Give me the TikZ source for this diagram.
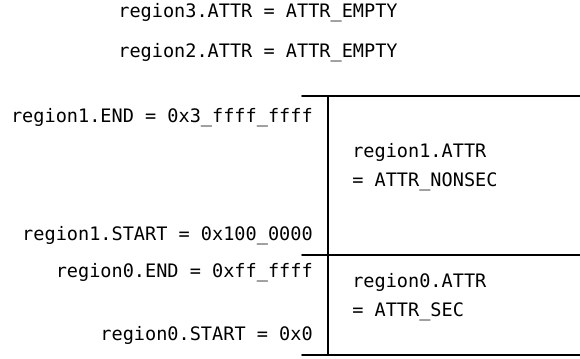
\documentclass[tikz,border=0pt]{standalone}
\usepackage{fontspec}
\setmonofont{DejaVu Sans Mono}
\usepackage{tkz-euclide}
\usetikzlibrary{calc}
\usetikzlibrary{positioning}

\tikzset{
  addr/.style={anchor=east, inner sep=0pt, font=\ttfamily\fontsize{13.2}{16}\selectfont},
  attr/.style={anchor=west, inner sep=0pt, align=left, font=\ttfamily\fontsize{13.2}{20.6}\selectfont},
  empty/.style={inner sep=0pt, font=\ttfamily\fontsize{13.2}{16}\selectfont}
}

\begin{document}
\begin{tikzpicture}
      \useasboundingbox (0,0) rectangle (14.5,8.95);
      \tkzDefPoints{7.55/6.55/T, 14.5/6.55/U, 7.55/2.575/M, 14.5/2.575/N, 7.55/0.075/B, 14.5/0.075/C, 8.2/6.55/V, 8.2/0.075/W}

      \tkzDrawSegments[line width=1.1pt](T,U M,N B,C V,W)

      \node[empty] (r3) at (6.45,8.625) {region3.ATTR = ATTR\_EMPTY};
      \node[empty] (r2) at (6.45,7.625) {region2.ATTR = ATTR\_EMPTY};

      \node[addr] (r1end) at (7.825,6.0) {region1.END = 0x3\_ffff\_ffff};
      \node[addr] (r1start) at (7.825,3.05) {region1.START = 0x100\_0000};
      \node[addr] (r0end) at (7.825,2.125) {region0.END = 0xff\_ffff};
      \node[addr] (r0start) at (7.825,0.575) {region0.START = 0x0};

      \node[attr] (r1attr) at (8.8,4.7625) {region1.ATTR\\= ATTR\_NONSEC};
      \node[attr] (r0attr) at (8.8,1.525) {region0.ATTR\\= ATTR\_SEC};
    \end{tikzpicture}
\end{document}
